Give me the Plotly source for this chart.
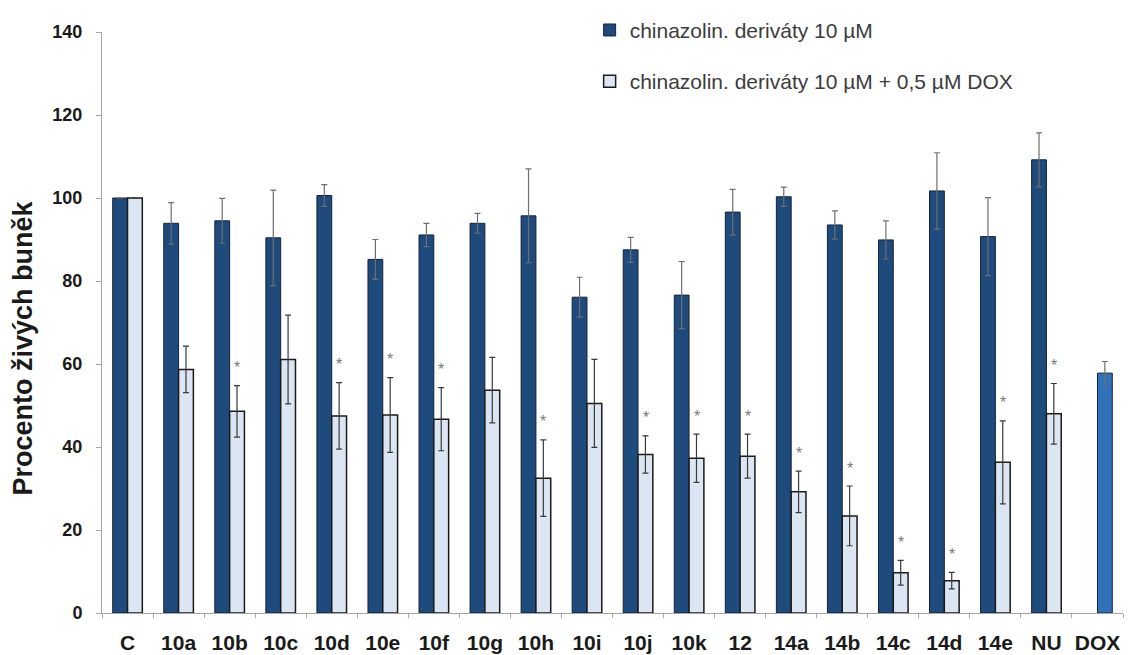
import plotly.graph_objects as go

categories = ["C", "10a", "10b", "10c", "10d", "10e", "10f", "10g", "10h", "10i",
              "10j", "10k", "12", "14a", "14b", "14c", "14d", "14e", "NU", "DOX"]

# chinazolin. deriváty 10 µM
dark_cats = categories[:19]
dark_vals = [100, 93.9, 94.5, 90.4, 100.6, 85.2, 91.1, 93.9, 95.7, 76.1,
             87.5, 76.6, 96.6, 100.3, 93.5, 89.9, 101.7, 90.7, 109.2]
dark_err = [0, 5.0, 5.4, 11.5, 2.6, 4.8, 2.8, 2.4, 11.3, 4.8,
            3.0, 8.1, 5.5, 2.3, 3.4, 4.6, 9.2, 9.4, 6.5]

# chinazolin. deriváty 10 µM + 0,5 µM DOX
light_cats = categories[:19]
light_vals = [100, 58.7, 48.6, 61.1, 47.5, 47.7, 46.7, 53.7, 32.5, 50.5,
              38.2, 37.3, 37.8, 29.2, 23.4, 9.7, 7.8, 36.3, 48.0]
light_err = [0, 5.6, 6.2, 10.7, 8.0, 9.0, 7.6, 7.9, 9.2, 10.6,
             4.5, 5.8, 5.3, 5.0, 7.2, 3.0, 2.0, 10.0, 7.3]
significant = [False, False, True, False, True, True, True, False, True, False,
               True, True, True, True, True, True, True, True, True]

# DOX 0,5 µM alone
dox_cat = ["DOX"]
dox_val = [57.8]
dox_err = [2.8]

yticks = [0, 20, 40, 60, 80, 100, 120, 140]
y_title = "Procento živých buněk"

DARK = "#1F4A7C"
LIGHT = "#DCE6F2"
DOXC = "#2F72BA"
FONT = "Liberation Sans, Arial, sans-serif"
W = 0.29

fig = go.Figure()
fig.add_trace(go.Bar(
    x=dark_cats, y=dark_vals, name="chinazolin. deriváty 10 µM",
    width=W, offset=-W, legendgroup="a",
    marker=dict(color=DARK, line=dict(color="#15233a", width=1)),
    error_y=dict(type="data", array=dark_err, color="#6f6f6f", thickness=1.2, width=3),
))
fig.add_trace(go.Bar(
    x=light_cats, y=light_vals, name="chinazolin. deriváty 10 µM + 0,5 µM DOX",
    width=W, offset=0, legendgroup="b",
    marker=dict(color=LIGHT, line=dict(color="#1a1a1a", width=1.5)),
    error_y=dict(type="data", array=light_err, color="#3a3a3a", thickness=1.2, width=3),
))
fig.add_trace(go.Bar(
    x=dox_cat, y=dox_val, name="DOX", showlegend=False,
    width=W, offset=0,
    marker=dict(color=DOXC, line=dict(color="#15233a", width=1)),
    error_y=dict(type="data", array=dox_err, color="#6f6f6f", thickness=1.2, width=3),
))

for c, v, e, s in zip(light_cats, light_vals, light_err, significant):
    if s:
        fig.add_annotation(x=c, y=v + e, text="*", showarrow=False,
                           xshift=7.5, yshift=18,
                           font=dict(family=FONT, size=16, color="#7a7a7a"))

fig.add_annotation(xref="paper", yref="paper", x=-0.077, y=0.456,
                   text=y_title, textangle=-90, showarrow=False,
                   xanchor="center", yanchor="middle",
                   font=dict(family=FONT, size=27, color="#1a1a1a", weight="bold"))

fig.update_layout(
    width=1135, height=655,
    margin=dict(l=102, r=12, t=32, b=42, autoexpand=False),
    barmode="overlay",
    plot_bgcolor="white", paper_bgcolor="white",
    font=dict(family=FONT, color="#222222"),
    showlegend=True,
    legend=dict(xref="container", yref="container",
                x=0.5195, y=0.985, xanchor="left", yanchor="top",
                font=dict(family=FONT, size=21, color="#3c3c3c"),
                tracegroupgap=21, traceorder="grouped",
                bgcolor="rgba(0,0,0,0)"),
    xaxis=dict(
        type="category", categoryorder="array", categoryarray=categories,
        range=[-0.5, len(categories) - 0.5], automargin=False,
        showline=True, linecolor="#a6a6a6", linewidth=1,
        ticks="outside", tickson="boundaries", ticklen=4, tickcolor="#a6a6a6",
        tickangle=0,
        tickfont=dict(family=FONT, size=21, color="#1a1a1a", weight="bold"),
        ticklabelstandoff=11, showgrid=False, zeroline=False,
    ),
    yaxis=dict(
        range=[0, 140], tickvals=yticks, automargin=False,
        showline=True, linecolor="#a6a6a6", linewidth=1,
        ticks="outside", ticklen=5, tickcolor="#a6a6a6",
        tickfont=dict(family=FONT, size=18, color="#1a1a1a", weight="bold"),
        ticklabelstandoff=10, showgrid=False, zeroline=False,
    ),
)

fig.write_html("out.html", config={"displayModeBar": False},
               post_script="document.body.style.margin='0';document.body.style.padding='0';")
